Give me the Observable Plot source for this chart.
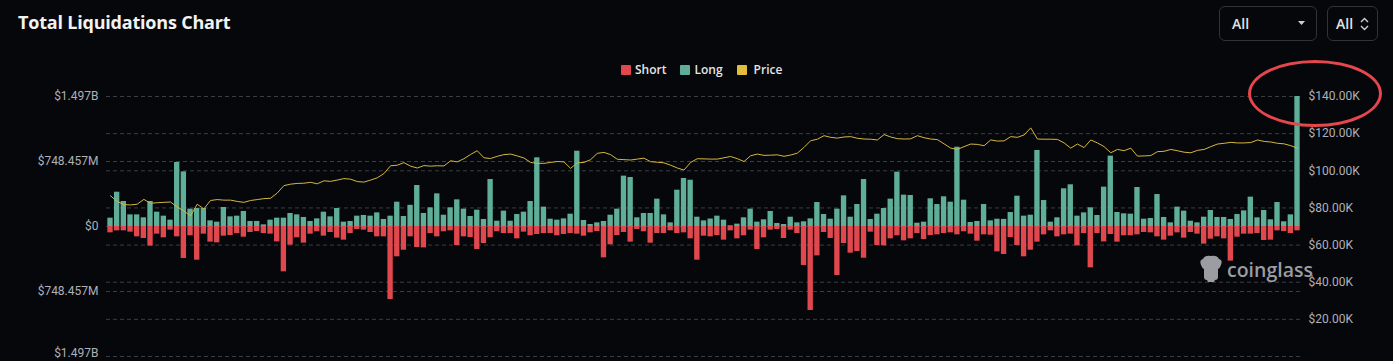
<!DOCTYPE html>
<html><head><meta charset="utf-8">
<script src="https://cdn.jsdelivr.net/npm/d3@7"></script>
<script src="https://cdn.jsdelivr.net/npm/@observablehq/plot@0.6"></script>
<style>
html,body{margin:0;padding:0;background:#06070b;}
#wrap{position:relative;width:1393px;height:361px;overflow:hidden;font-family:"Open Sans",sans-serif;}
#header{position:relative;height:85px;}
.title{position:absolute;left:18px;top:10px;font-weight:700;font-size:18px;color:#f2f2f2;letter-spacing:-0.2px;}
.sel{position:absolute;top:6px;height:35px;box-sizing:border-box;border:1px solid #30333a;border-radius:6px;color:#e2e2e2;font-weight:600;font-size:14px;}
.sel span{position:absolute;top:7px;}
.legend{position:absolute;left:621px;top:61px;display:flex;align-items:center;font-size:12px;font-weight:600;color:#e4e4e4;}
.legend i{display:inline-block;width:10px;height:10px;border-radius:1px;margin-right:4px;}
.legend b{font-weight:600;margin-right:14px;}
#chart{position:relative;}
.ring{position:absolute;left:1248px;top:60px;width:134px;height:67px;box-sizing:border-box;border:3px solid #e5474d;border-radius:50%;}
.wm{position:absolute;left:1199px;top:255px;display:flex;align-items:center;color:#9b9da2;font-weight:600;font-size:19.5px;}
</style></head><body>
<div id="wrap">
  <div id="header">
    <div class="title">Total Liquidations Chart</div>
    <div class="sel" style="left:1219px;width:98px;"><span style="left:12px;">All</span>
      <svg style="position:absolute;left:78px;top:14px" width="8" height="6"><path d="M0,0 L7,0 L3.5,4 Z" fill="#cfcfcf"/></svg></div>
    <div class="sel" style="left:1327px;width:51px;"><span style="left:8px;">All</span>
      <svg style="position:absolute;left:32px;top:10px" width="9" height="14"><path d="M1,5 L4.5,1.5 L8,5 M1,9 L4.5,12.5 L8,9" fill="none" stroke="#cfcfcf" stroke-width="1.4"/></svg></div>
    <div class="legend">
      <i style="background:#e0484e"></i><b>Short</b>
      <i style="background:#5fae98"></i><b>Long</b>
      <i style="background:#e2bd3c"></i><b style="margin-left:3px">Price</b>
    </div>
  </div>
  <div id="chart"></div>
  <div class="wm">
    <svg width="24" height="28" viewBox="0 0 24 28"><path d="M4,4 Q6,0 12,1 Q18,0 20,4 Q24,5 22,10 Q21,13 19,14 L19,22 Q19,25 16,25 L15,27 L9,27 L8,25 Q5,25 5,22 L5,14 Q3,13 2,10 Q0,5 4,4 Z" fill="#9b9da2"/></svg>
    <span style="margin-left:4px;">coinglass</span>
  </div>
  <div class="ring"></div>
</div>
<script>
// Long liquidations (millions USD), one per period
const longs = [96,395,288,134,134,100,288,165,119,73,
737,629,200,207,207,65,50,219,111,119,
173,58,58,19,73,96,96,150,134,104,
58,88,165,111,207,50,58,119,127,119,
157,81,119,280,115,244,472,150,215,376,
130,215,307,200,115,188,81,541,61,177,
61,138,165,288,791,223,84,73,88,142,
867,69,23,42,58,130,200,580,564,100,
150,150,315,134,42,418,553,533,107,65,
86,119,73,8,27,100,200,50,77,173,
35,23,107,42,54,88,276,138,84,200,
353,107,253,541,81,142,207,315,626,361,
357,38,50,319,253,342,280,913,303,46,
58,253,65,84,82,161,349,119,130,875,
299,50,100,434,480,119,157,215,127,453,
810,161,146,142,449,84,92,368,104,42,
223,177,61,42,107,184,104,104,81,138,
180,338,100,184,77,276,54,134,1496.914];
// Short liquidations (millions USD)
const shorts = [73,50,50,65,119,138,226,88,130,42,
119,368,107,388,88,180,188,111,104,81,
123,69,58,81,88,177,522,215,130,192,
88,61,111,69,134,157,81,35,42,69,
119,119,841,349,273,119,242,246,81,119,
61,50,219,119,127,265,196,130,61,81,
81,142,65,107,92,81,81,107,92,81,
88,111,73,58,361,211,104,69,180,35,
61,192,81,81,50,81,73,142,388,111,
119,104,157,50,142,107,42,265,130,42,
35,138,42,81,449,967,338,69,138,564,
196,307,288,365,65,219,223,142,107,165,
142,81,150,104,96,81,73,96,61,88,
169,96,100,292,322,127,219,349,273,180,
96,50,119,96,88,223,81,476,81,177,
92,180,107,107,96,69,73,119,157,111,
73,134,69,88,203,146,119,142,399,123,
88,88,81,161,157,50,58,81,50];
// BTC price (thousands USD)
const prices = [86.5,83.5,81.8,81.6,82.0,84.6,82.5,82.8,83.0,83.2,
80.5,78.4,75.7,82.0,79.5,84.0,84.5,84.2,84.2,83.5,
83.0,84.0,84.5,85.0,85.2,88.0,92.0,92.8,93.2,93.3,
93.8,93.0,94.6,94.3,95.0,95.8,95.5,94.2,93.9,95.0,
96.2,98.5,102.7,103.0,104.4,102.5,101.5,102.8,102.5,102.7,
102.6,105.4,104.8,106.5,108.8,110.8,107.0,106.6,107.8,108.7,
109.0,108.0,106.9,104.5,104.0,104.0,104.5,105.0,104.8,101.3,
104.3,104.5,106.0,109.4,109.9,108.7,106.2,106.0,105.8,106.3,
106.8,104.9,104.6,104.3,103.0,101.5,100.4,104.5,106.5,106.4,
106.3,106.3,107.0,107.7,106.5,105.0,108.1,109.0,108.3,108.4,
108.6,107.8,108.5,109.5,112.6,116.2,117.0,118.9,118.0,117.6,
118.2,118.4,117.5,117.1,117.0,116.6,119.5,118.2,117.3,117.1,
117.2,118.9,117.8,117.1,116.8,114.5,112.2,111.5,113.0,114.4,
114.2,113.5,116.6,116.0,116.1,118.4,118.0,119.3,123.1,117.1,
117.0,117.0,116.9,115.0,112.2,114.4,112.5,116.6,115.0,113.0,
109.7,111.5,110.8,112.2,107.9,108.0,108.2,110.3,110.5,111.5,
110.8,110.0,109.7,111.0,111.5,113.0,114.4,114.8,115.3,115.0,
115.0,115.2,116.6,115.8,115.5,114.8,114.5,113.5,112.2];
const leftTickValues = [-1496.914, -748.457, 0, 748.457, 1496.914];
const priceTickValues = [0, 20, 40, 60, 80, 100, 120, 140];

const YMAX = 1496.914, PMAX = 140;
const toY = p => -YMAX + (p / PMAX) * 2 * YMAX;
const fromY = v => (v + YMAX) / (2 * YMAX) * PMAX;
const rows = longs.map((l, i) => ({i, long: l, short: shorts[i], price: prices[i]}));
const rightTicks = priceTickValues.map(toY);
const fmtLeft = v => {
  const a = Math.abs(v);
  if (a < 1e-9) return "$0";
  if (a >= 1000) return "$" + (a / 1000).toFixed(3) + "B";
  return "$" + a.toFixed(3) + "M";
};
const fmtRight = v => "$" + (Math.round(fromY(v) * 100) / 100).toFixed(2) + "K";
const axisStyle = {tickSize: 0, label: null, fill: "#aeb1b7"};

const chart = Plot.plot({
  width: 1393, height: 276,
  marginLeft: 106, marginRight: 92, marginTop: 11, marginBottom: 5,
  style: {background: "transparent", color: "#aeb1b7", fontFamily: "Roboto, sans-serif", fontSize: "12px", overflow: "visible"},
  x: {type: "band", domain: d3.range(rows.length), padding: 0.2, axis: null},
  y: {domain: [-YMAX, YMAX], axis: null},
  marks: [
    Plot.gridY(leftTickValues, {stroke: "#3a3d45", strokeOpacity: 1, strokeDasharray: "4,3"}),
    Plot.gridY(rightTicks, {stroke: "#3a3d45", strokeOpacity: 1, strokeDasharray: "4,3"}),
    Plot.barY(rows, {x: "i", y: "long", fill: "#5fae98"}),
    Plot.barY(rows, {x: "i", y: d => -d.short, fill: "#e0484e"}),
    Plot.lineY(rows, {x: "i", y: d => toY(d.price), stroke: "#d6b63f", strokeWidth: 1}),
    Plot.axisY(leftTickValues.slice(1), {...axisStyle, anchor: "left", tickPadding: 8, tickFormat: fmtLeft}),
    Plot.axisY(leftTickValues.slice(0, 1), {...axisStyle, anchor: "left", tickPadding: 8, tickFormat: fmtLeft, dy: -3}),
    Plot.axisY(rightTicks.slice(1), {...axisStyle, anchor: "right", tickPadding: 7, tickFormat: fmtRight})
  ]
});
document.getElementById("chart").appendChild(chart);
</script>
</body></html>
